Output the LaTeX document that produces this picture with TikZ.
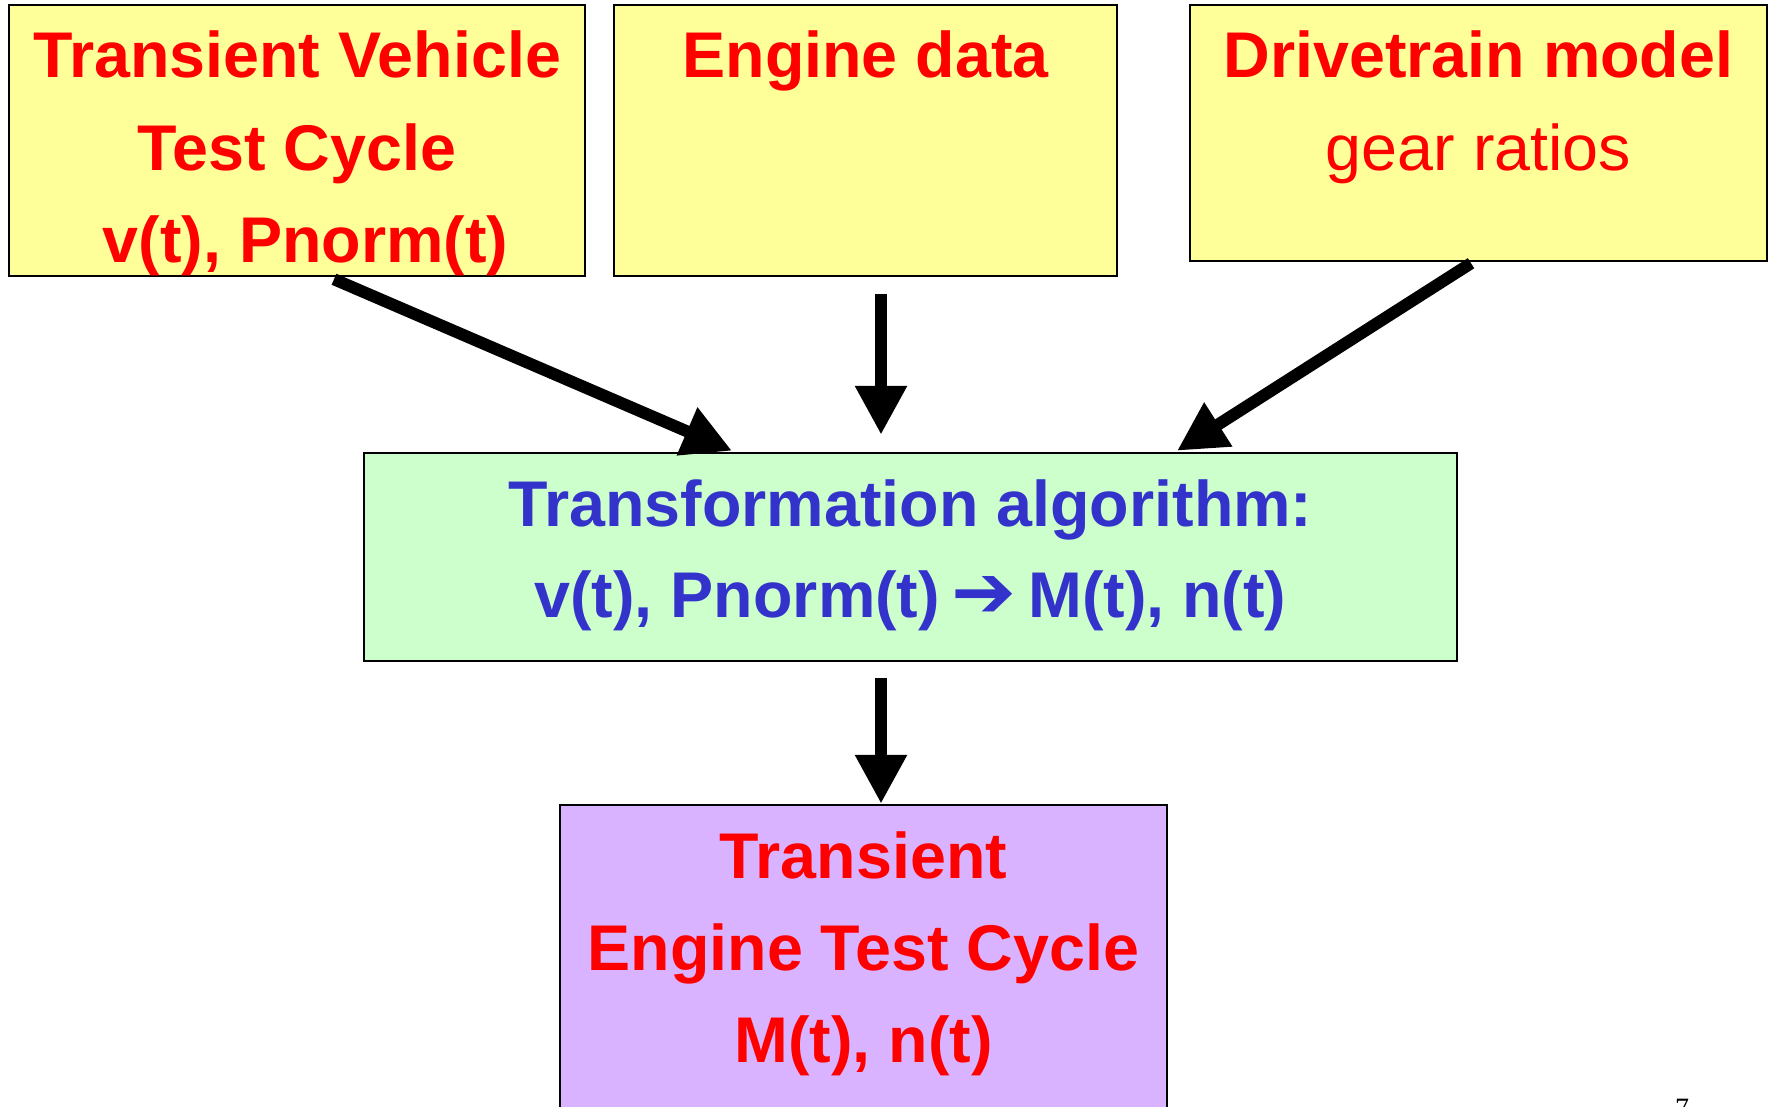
\documentclass[tikz,border=0pt]{standalone}
\usepackage{fontspec}
\usepackage{graphicx}
\setmainfont{Liberation Sans}
\newfontfamily\symfont{DejaVu Sans}
\newfontfamily\seriffont{Liberation Serif}
\usetikzlibrary{arrows.meta}
\definecolor{boxyellow}{HTML}{FFFF99}
\definecolor{boxgreen}{HTML}{CCFFCC}
\definecolor{boxpurple}{HTML}{D9B3FF}
\definecolor{textred}{HTML}{FF0000}
\definecolor{textblue}{HTML}{3333CC}
\begin{document}
\begin{tikzpicture}[x=1pt,y=-1pt,
  box/.style={draw=black, line width=2.5pt, inner sep=0pt, rectangle},
  lbl/.style={anchor=base, inner sep=0pt, font=\fontsize{64.6}{64.6}\selectfont\bfseries, text=textred},
  lblreg/.style={anchor=base, inner sep=0pt, font=\fontsize{64.6}{64.6}\selectfont, text=textred},
  lblblue/.style={lbl, text=textblue},
  arr/.style={line width=12pt, -{Triangle[length=49pt,width=49pt]}}]
\useasboundingbox (0,0) rectangle (1771,1106);
\fill[white] (0,0) rectangle (1771,1106);

% boxes
\node[box, fill=boxyellow, minimum width=576pt, minimum height=271pt] (veh) at (297,140.5) {};
\node[box, fill=boxyellow, minimum width=503pt, minimum height=271pt] (eng) at (865.5,140.5) {};
\node[box, fill=boxyellow, minimum width=577pt, minimum height=256pt] (drv) at (1478.5,133) {};
\node[box, fill=boxgreen, minimum width=1093pt, minimum height=208pt] (alg) at (910.5,557) {};
\node[box, fill=boxpurple, minimum width=607pt, minimum height=310pt] (out) at (863.5,960) {};

% labels
\node[lbl] (veh1) at (297,77) {Transient Vehicle};
\node[lbl] (veh2) at (297,170) {Test Cycle};
\node[lbl] (veh3) at (305.5,262) {v(t), Pnorm(t)};
\node[lbl] (eng1) at (865.5,77) {Engine data};
\node[lbl] (drv1) at (1478.5,77) {Drivetrain model};
\node[lblreg] (drv2) at (1478.5,170) {gear ratios};
\node[lblblue] (alg1) at (910.5,526) {Transformation algorithm:};
\node[lblblue] (alg2) at (910.5,617) {v(t), Pnorm(t)\hspace{0.18em}{\symfont\scalebox{1.2}[1.15]{➔}}\hspace{0.18em}M(t), n(t)};
\node[lbl] (out1) at (863.5,878) {Transient};
\node[lbl] (out2) at (863.5,970) {Engine Test Cycle};
\node[lbl] (out3) at (863.5,1062) {M(t), n(t)};

% page number
\node[anchor=base, inner sep=0pt, font=\seriffont\fontsize{28}{28}\selectfont] (pagenum) at (1682,1117) {7};

% connectors
\draw[arr] ([shift={(37,2)}]veh.south) -- ([shift={(-178.5,-1)}]alg.north);
\draw[arr] ([shift={(15.5,17)}]eng.south) -- ([shift={(-29.5,-17)}]alg.north);
\draw[arr] ([shift={(-7.5,1)}]drv.south) -- ([shift={(266.5,-1)}]alg.north);
\draw[arr] ([shift={(-29.5,16)}]alg.south) -- ([shift={(17.5,0)}]out.north);
\end{tikzpicture}
\end{document}
